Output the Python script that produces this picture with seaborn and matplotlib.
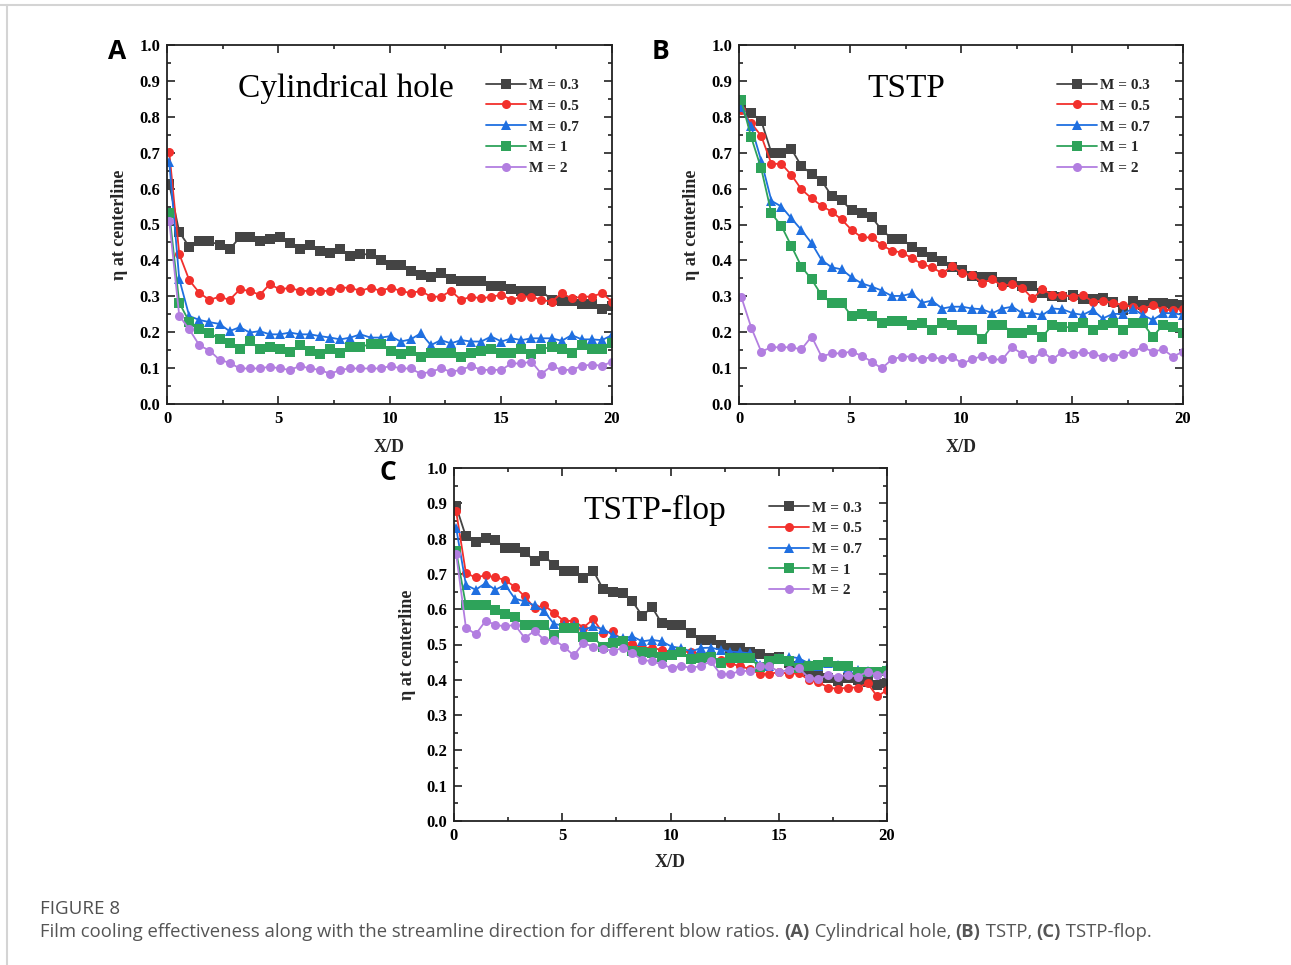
import matplotlib
matplotlib.use("Agg")
import matplotlib.pyplot as plt
import numpy as np
import pandas as pd
import seaborn as sns
from matplotlib.lines import Line2D
from matplotlib.ticker import MultipleLocator

# ---------------- data ----------------
x_d = [0.10, 0.55, 1.00, 1.46, 1.91, 2.36, 2.81, 3.27, 3.72, 4.17,
       4.62, 5.07, 5.53, 5.98, 6.43, 6.88, 7.34, 7.79, 8.24, 8.69,
       9.15, 9.60, 10.05, 10.50, 10.95, 11.41, 11.86, 12.31, 12.76, 13.22,
       13.67, 14.12, 14.57, 15.03, 15.48, 15.93, 16.38, 16.83, 17.29, 17.74,
       18.19, 18.64, 19.10, 19.55, 20.00]

series_labels = ["M = 0.3", "M = 0.5", "M = 0.7", "M = 1", "M = 2"]

a_m03 = [0.613,0.479,0.438,0.453,0.453,0.443,0.431,0.464,0.464,0.454,
         0.459,0.464,0.448,0.432,0.443,0.427,0.422,0.432,0.412,0.417,
         0.417,0.401,0.386,0.386,0.371,0.359,0.355,0.364,0.349,0.344,
         0.344,0.344,0.330,0.330,0.319,0.315,0.315,0.315,0.290,0.287,
         0.287,0.279,0.279,0.266,0.272]
a_m05 = [0.703,0.418,0.345,0.309,0.290,0.299,0.290,0.319,0.315,0.304,
         0.334,0.319,0.324,0.315,0.315,0.315,0.315,0.324,0.324,0.315,
         0.324,0.315,0.324,0.315,0.309,0.315,0.299,0.299,0.315,0.290,
         0.299,0.294,0.299,0.304,0.290,0.299,0.299,0.290,0.285,0.309,
         0.294,0.299,0.299,0.309,0.285]
a_m07 = [0.675,0.348,0.245,0.234,0.228,0.223,0.203,0.214,0.199,0.203,
         0.194,0.194,0.199,0.194,0.194,0.189,0.185,0.180,0.185,0.194,
         0.185,0.185,0.189,0.174,0.180,0.197,0.164,0.178,0.169,0.178,
         0.174,0.174,0.188,0.174,0.183,0.178,0.183,0.183,0.183,0.176,
         0.192,0.180,0.180,0.178,0.192]
a_m1 = [0.533,0.282,0.229,0.209,0.199,0.180,0.169,0.153,0.176,0.153,
        0.159,0.153,0.144,0.164,0.149,0.138,0.153,0.143,0.159,0.159,
        0.167,0.167,0.149,0.138,0.149,0.132,0.143,0.143,0.143,0.132,
        0.143,0.149,0.153,0.143,0.143,0.153,0.138,0.153,0.159,0.153,
        0.143,0.164,0.153,0.153,0.171]
a_m2 = [0.511,0.246,0.208,0.163,0.149,0.123,0.115,0.099,0.099,0.099,
        0.104,0.099,0.095,0.106,0.099,0.095,0.084,0.095,0.099,0.099,
        0.099,0.099,0.106,0.099,0.099,0.084,0.090,0.099,0.090,0.095,
        0.106,0.095,0.095,0.095,0.113,0.113,0.118,0.084,0.106,0.095,
        0.095,0.106,0.110,0.106,0.118]

b_m03 = [0.826,0.810,0.789,0.700,0.700,0.710,0.663,0.641,0.622,0.580,
         0.568,0.539,0.533,0.520,0.485,0.461,0.461,0.436,0.424,0.410,
         0.399,0.383,0.373,0.357,0.353,0.353,0.341,0.341,0.329,0.329,
         0.308,0.301,0.299,0.304,0.292,0.292,0.294,0.285,0.262,0.288,
         0.276,0.282,0.282,0.279,0.276]
b_m05 = [0.819,0.782,0.747,0.669,0.669,0.638,0.598,0.573,0.552,0.536,
         0.514,0.485,0.464,0.464,0.443,0.427,0.422,0.406,0.390,0.381,
         0.364,0.384,0.364,0.359,0.338,0.347,0.329,0.334,0.324,0.294,
         0.319,0.304,0.304,0.299,0.304,0.285,0.288,0.282,0.276,0.270,
         0.265,0.276,0.262,0.262,0.265]
b_m07 = [0.826,0.773,0.678,0.566,0.550,0.517,0.485,0.448,0.401,0.381,
         0.375,0.353,0.336,0.327,0.316,0.301,0.301,0.308,0.282,0.288,
         0.266,0.271,0.271,0.266,0.264,0.253,0.266,0.271,0.253,0.253,
         0.248,0.266,0.264,0.253,0.248,0.262,0.238,0.251,0.251,0.266,
         0.248,0.234,0.253,0.253,0.248]
b_m1 = [0.847,0.743,0.656,0.531,0.496,0.440,0.383,0.347,0.303,0.282,
        0.282,0.245,0.251,0.245,0.225,0.231,0.231,0.220,0.225,0.206,
        0.225,0.220,0.206,0.206,0.180,0.220,0.220,0.199,0.199,0.206,
        0.188,0.220,0.214,0.214,0.225,0.206,0.220,0.225,0.206,0.225,
        0.225,0.188,0.220,0.214,0.199]
b_m2 = [0.299,0.213,0.146,0.158,0.158,0.158,0.152,0.188,0.132,0.141,
        0.141,0.146,0.134,0.118,0.099,0.124,0.132,0.132,0.124,0.132,
        0.124,0.132,0.113,0.124,0.134,0.124,0.124,0.158,0.139,0.124,
        0.146,0.124,0.146,0.139,0.146,0.139,0.132,0.132,0.139,0.146,
        0.158,0.146,0.152,0.132,0.146]

c_m03 = [0.891,0.806,0.790,0.803,0.797,0.773,0.773,0.762,0.737,0.752,
         0.724,0.709,0.709,0.688,0.709,0.658,0.650,0.646,0.622,0.582,
         0.605,0.560,0.554,0.554,0.532,0.513,0.513,0.499,0.490,0.490,
         0.480,0.473,0.461,0.466,0.447,0.440,0.425,0.419,0.405,0.397,
         0.406,0.400,0.395,0.386,0.390]
c_m05 = [0.877,0.702,0.690,0.696,0.690,0.683,0.663,0.636,0.603,0.611,
         0.589,0.567,0.567,0.548,0.572,0.532,0.537,0.510,0.501,0.491,
         0.490,0.485,0.478,0.478,0.480,0.473,0.461,0.457,0.447,0.438,
         0.431,0.416,0.416,0.423,0.416,0.419,0.400,0.393,0.378,0.374,
         0.378,0.378,0.390,0.353,0.371]
c_m07 = [0.830,0.669,0.655,0.674,0.655,0.669,0.630,0.622,0.611,0.594,
         0.558,0.554,0.554,0.542,0.551,0.544,0.527,0.518,0.523,0.509,
         0.513,0.509,0.494,0.490,0.480,0.490,0.491,0.485,0.480,0.478,
         0.475,0.442,0.440,0.461,0.466,0.461,0.447,0.440,0.447,0.442,
         0.433,0.428,0.425,0.423,0.433]
c_m1 = [0.764,0.611,0.611,0.611,0.598,0.586,0.579,0.556,0.556,0.556,
        0.527,0.546,0.546,0.520,0.520,0.494,0.504,0.509,0.482,0.480,
        0.475,0.466,0.471,0.480,0.459,0.461,0.466,0.447,0.463,0.463,
        0.463,0.435,0.452,0.459,0.452,0.433,0.438,0.442,0.450,0.440,
        0.440,0.423,0.423,0.423,0.425]
c_m2 = [0.756,0.548,0.529,0.567,0.556,0.551,0.556,0.518,0.539,0.513,
        0.513,0.494,0.469,0.504,0.494,0.488,0.482,0.490,0.475,0.457,
        0.452,0.444,0.433,0.440,0.433,0.440,0.452,0.416,0.416,0.425,
        0.425,0.438,0.438,0.423,0.428,0.433,0.406,0.403,0.414,0.409,
        0.414,0.409,0.423,0.414,0.416]

panel_titles = ["Cylindrical hole", "TSTP", "TSTP-flop"]
panel_letters = ["A", "B", "C"]
x_ticks = [0, 5, 10, 15, 20]
x_tick_labels = ["0", "5", "10", "15", "20"]
y_ticks = [0.0, 0.1, 0.2, 0.3, 0.4, 0.5, 0.6, 0.7, 0.8, 0.9, 1.0]
y_tick_labels = ["0.0", "0.1", "0.2", "0.3", "0.4", "0.5", "0.6", "0.7", "0.8", "0.9", "1.0"]
x_label = "X/D"
y_label = "η at centerline"

# ---------------- style ----------------
sns.set_theme(style="ticks")
plt.rcParams["font.family"] = ["Liberation Serif", "DejaVu Serif"]

colors = ["#444444", "#f2302c", "#1f6fe0", "#2ea35a", "#b27ee0"]
marker_list = ["s", "o", "^", "s", "o"]
palette = dict(zip(series_labels, colors))
markers = dict(zip(series_labels, marker_list))

W, H = 1291, 965
fig = plt.figure(figsize=(W / 100, H / 100), dpi=100)

def px_rect(left, right, top, bottom):
    return [left / W, 1 - bottom / H, (right - left) / W, (bottom - top) / H]

axes_rects = [px_rect(167, 612, 45, 404), px_rect(739, 1183, 45, 404), px_rect(454, 887, 468, 821)]
title_pos = [(0.402, 0.855), (0.376, 0.856), (0.464, 0.855)]
legend_pos = [(0.717, 0.907), (0.716, 0.907), (0.728, 0.907)]
ylabel_x = [-0.087, -0.087, -0.088]
xlabel_y = [-0.098, -0.098, -0.094]
letter_pos = [(117, 59), (661, 59), (388, 480)]

all_data = [
    [a_m03, a_m05, a_m07, a_m1, a_m2],
    [b_m03, b_m05, b_m07, b_m1, b_m2],
    [c_m03, c_m05, c_m07, c_m1, c_m2],
]

tick_font = dict(family=["Liberation Serif", "DejaVu Serif"], fontweight="bold", fontsize=12)

for i, series in enumerate(all_data):
    ax = fig.add_axes(axes_rects[i])
    rows = []
    for lab, vals in zip(series_labels, series):
        for xv, yv in zip(x_d, vals):
            rows.append((xv, yv, lab))
    df = pd.DataFrame(rows, columns=["x", "eta", "M"])
    sns.lineplot(data=df, x="x", y="eta", hue="M", style="M",
                 hue_order=series_labels, style_order=series_labels,
                 palette=palette, markers=markers, dashes=False,
                 estimator=None, sort=False, legend=False, ax=ax,
                 linewidth=1.3, markersize=6.5, markeredgewidth=0)
    ax.set_xlim(0, 20)
    ax.set_ylim(0, 1.0)
    ax.set_xticks(x_ticks, labels=x_tick_labels, **tick_font)
    ax.set_yticks(y_ticks, labels=y_tick_labels, **tick_font)
    ax.xaxis.set_minor_locator(MultipleLocator(2.5))
    ax.yaxis.set_minor_locator(MultipleLocator(0.05))
    ax.tick_params(which="both", direction="in", top=True, right=True,
                   width=1.2, colors="#222222", labelcolor="black")
    ax.tick_params(which="major", length=6, pad=5)
    ax.tick_params(which="minor", length=3)
    for sp in ax.spines.values():
        sp.set_linewidth(1.3)
        sp.set_color("#222222")
    ax.set_xlabel(x_label, fontsize=13, fontweight="bold", va="top")
    ax.set_ylabel(y_label, fontsize=13, fontweight="bold")
    ax.xaxis.set_label_coords(0.5, xlabel_y[i])
    ax.yaxis.set_label_coords(ylabel_x[i], 0.5)
    ax.text(title_pos[i][0], title_pos[i][1], panel_titles[i], transform=ax.transAxes,
            ha="center", va="baseline", fontsize=24, color="black")
    handles = ax.get_lines()[:5]
    ax.legend(handles, series_labels, loc="upper left",
              bbox_to_anchor=legend_pos[i], frameon=False,
              prop=dict(family="Liberation Serif", weight="bold", size=11),
              handlelength=2.6, handletextpad=0.2, labelspacing=0.46,
              borderpad=0, borderaxespad=0)
    fig.text(letter_pos[i][0] / W, 1 - letter_pos[i][1] / H, panel_letters[i],
             family=["Open Sans", "DejaVu Sans"], fontweight="bold", fontsize=19,
             ha="center", va="baseline", color="black")

# frame lines
fig.add_artist(Line2D([0, 1], [1 - 5 / H, 1 - 5 / H], transform=fig.transFigure, color="#d4d4d4", lw=1.5))
fig.add_artist(Line2D([7 / W, 7 / W], [0, 1 - 5 / H], transform=fig.transFigure, color="#d4d4d4", lw=1.5))

# caption
cap_family = ["Open Sans", "DejaVu Sans"]
fig.text(40 / W, 1 - 909 / H, "FIGURE 8", family=cap_family, fontsize=13.5,
         color="#505050", va="center", ha="left")
pieces = [
    ("Film cooling effectiveness along with the streamline direction for different blow ratios. ", "normal"),
    ("(A)", "bold"), (" Cylindrical hole, ", "normal"),
    ("(B)", "bold"), (" TSTP, ", "normal"),
    ("(C)", "bold"), (" TSTP-flop.", "normal"),
]
renderer = fig.canvas.get_renderer()
xpos = 40
for txt, wt in pieces:
    t = fig.text(xpos / W, 1 - 932 / H, txt, family=cap_family, fontsize=13.3,
                 fontweight=wt, color="#555555", va="center", ha="left")
    bb = t.get_window_extent(renderer=renderer)
    xpos = bb.x1

fig.savefig("out.png", dpi=100)
